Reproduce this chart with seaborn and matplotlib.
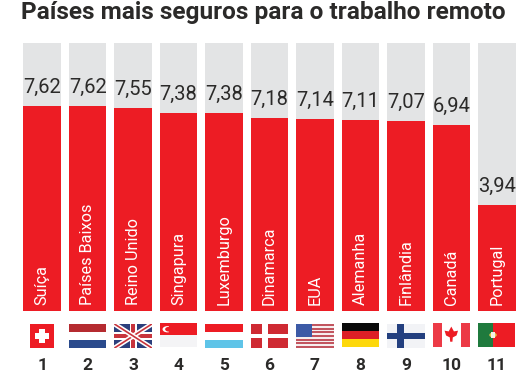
import matplotlib
matplotlib.use("Agg")
import matplotlib.pyplot as plt
from matplotlib.patches import Rectangle, Circle, Polygon
import pandas as pd
import seaborn as sns

countries = ["Suíça", "Países Baixos", "Reino Unido", "Singapura", "Luxemburgo", "Dinamarca",
             "EUA", "Alemanha", "Finlândia", "Canadá", "Portugal"]
scores = [7.62, 7.62, 7.55, 7.38, 7.38, 7.18, 7.14, 7.11, 7.07, 6.94, 3.94]
score_labels = ["7,62", "7,62", "7,55", "7,38", "7,38", "7,18", "7,14", "7,11", "7,07", "6,94", "3,94"]
ranks = ["1", "2", "3", "4", "5", "6", "7", "8", "9", "10", "11"]
scale_max = [10] * 11
title = "Países mais seguros para o trabalho remoto"

RED = "#ed1c24"
GREY = "#e3e4e5"
INK = "#2b2a29"
W, H = 532, 385

sns.set_theme(style="white")
plt.rcParams["font.family"] = ["Roboto", "DejaVu Sans"]

df = pd.DataFrame({"pais": countries, "valor": scores, "max": scale_max})

fig = plt.figure(figsize=(W / 100, H / 100), dpi=100, facecolor="white")
ax = fig.add_axes([19.5 / W, 1 - 311 / H, 500 / W, 268.5 / H])
sns.barplot(data=df, x="pais", y="max", color=GREY, saturation=1, width=0.825, linewidth=0, ax=ax)
sns.barplot(data=df, x="pais", y="valor", color=RED, saturation=1, width=0.825, linewidth=0, ax=ax)
ax.set_ylim(0, 10)
ax.set_xlim(-0.5, 10.5)
ax.set_xlabel("")
ax.set_ylabel("")
ax.set_yticks([])
ax.set_xticks(range(len(ranks)))
ax.set_xticklabels(ranks, fontsize=12.5, fontweight="bold", color=INK)
ax.tick_params(axis="x", length=0, pad=34)
sns.despine(ax=ax, left=True, bottom=True)

for i, (name, v, lab) in enumerate(zip(countries, scores, score_labels)):
    ax.annotate(lab, (i, v), xytext=(0, 6.5), textcoords="offset points", ha="center", va="bottom",
                fontsize=14.5, color=INK)
    ax.annotate(name, (i, 0), xytext=(0, 4), textcoords="offset points", ha="center", va="bottom",
                rotation=90, fontsize=11.7, color="white")

fig.text(21 / W, 1 - 12.5 / H, title, fontsize=17.6, fontweight="bold", color=INK, va="center", ha="left")


def flag(i, top=324, x0=None, x1=None):
    xc = 42.25 + i * 45.45
    x0 = xc - 18.7 if x0 is None else x0
    x1 = xc + 18.7 if x1 is None else x1
    a = fig.add_axes([x0 / W, 1 - (top + 24) / H, (x1 - x0) / W, 24 / H])
    a.set_xlim(0, 1)
    a.set_ylim(0, 1)
    a.axis("off")
    return a


def R(a, x, y, w, h, c):
    a.add_patch(Rectangle((x, y), w, h, facecolor=c, edgecolor="none"))


def stripes(a, cols):
    n = len(cols)
    for k, c in enumerate(cols):
        R(a, 0, 1 - (k + 1) / n, 1, 1 / n, c)


# Suíça
a = flag(0, x0=30, x1=54)
R(a, 0, 0, 1, 1, RED)
R(a, 0.2, 0.39, 0.6, 0.22, "white")
R(a, 0.39, 0.2, 0.22, 0.6, "white")
# Países Baixos
stripes(flag(1), ["#b52b30", "white", "#2a4a8c"])
# Reino Unido
a = flag(2)
R(a, 0, 0, 1, 1, "#2c3f7c")
for xs, ys in (([0, 1], [0, 1]), ([0, 1], [1, 0])):
    a.plot(xs, ys, color="white", lw=3.5, solid_capstyle="butt")
    a.plot(xs, ys, color="#c8343c", lw=1.2, solid_capstyle="butt")
R(a, 0.41, 0, 0.18, 1, "white")
R(a, 0, 0.34, 1, 0.32, "white")
R(a, 0.45, 0, 0.1, 1, "#c8343c")
R(a, 0, 0.4, 1, 0.2, "#c8343c")
# Singapura
a = flag(3, top=323)
stripes(a, [RED, "#f4f4f6"])
a.add_patch(Circle((0.2, 0.74), 0.13, facecolor="white", edgecolor="none"))
R(a, 0.24, 0.56, 0.2, 0.36, RED)
a.add_patch(Circle((0.24, 0.74), 0.1, facecolor=RED, edgecolor="none"))
# Luxemburgo
stripes(flag(4), [RED, "white", "#5fc4e8"])
# Dinamarca
a = flag(5)
R(a, 0, 0, 1, 1, "#cf2a33")
R(a, 0.31, 0, 0.14, 1, "white")
R(a, 0, 0.41, 1, 0.18, "white")
# EUA
a = flag(6)
stripes(a, ["#c2555f" if k % 2 == 0 else "#f6eeee" for k in range(13)])
R(a, 0, 0.46, 0.42, 0.54, "#3c5aa6")
# Alemanha
stripes(flag(7, top=323), ["#0a0a0a", "#dd1f26", "#fdd80b"])
# Finlândia
a = flag(8)
R(a, 0, 0, 1, 1, "#f2f3f6")
R(a, 0.27, 0, 0.18, 1, "#24407f")
R(a, 0, 0.37, 1, 0.26, "#24407f")
# Canadá
a = flag(9, top=323)
R(a, 0, 0, 1, 1, "white")
R(a, 0, 0, 0.24, 1, "#ec3a46")
R(a, 0.76, 0, 0.24, 1, "#ec3a46")
a.add_patch(Polygon([(0.5, 0.85), (0.57, 0.65), (0.68, 0.68), (0.64, 0.48), (0.54, 0.4), (0.53, 0.22),
                     (0.47, 0.22), (0.46, 0.4), (0.36, 0.48), (0.32, 0.68), (0.43, 0.65)],
                    facecolor=RED, edgecolor="none"))
# Portugal
a = flag(10, top=323)
R(a, 0, 0, 1, 1, RED)
R(a, 0, 0, 0.4, 1, "#1f7a3d")
a.add_patch(Circle((0.4, 0.5), 0.1, facecolor="#e6c34a", edgecolor="none"))
R(a, 0.355, 0.38, 0.09, 0.24, "#f3efe6")

fig.savefig("out.png", dpi=100)
